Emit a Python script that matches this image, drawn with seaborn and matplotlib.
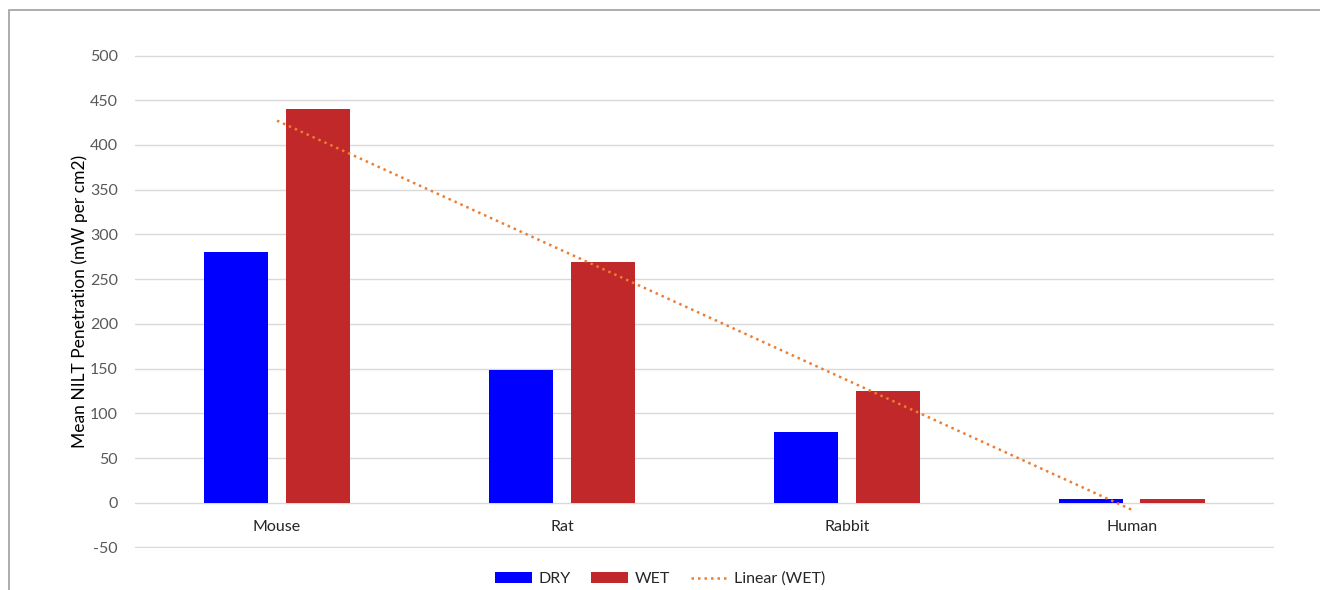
import numpy as np
import pandas as pd
import matplotlib
matplotlib.use("Agg")
import matplotlib.pyplot as plt
from matplotlib.patches import Patch, Rectangle
from matplotlib.lines import Line2D
import seaborn as sns

# Mean NILT penetration per species
species = ["Mouse", "Rat", "Rabbit", "Human"]
dry = [280, 148, 79, 4.5]
wet = [440, 269, 125, 4.5]
yticks = list(range(-50, 501, 50))

dry_color = "#0000FF"
wet_color = "#C0282A"
trend_color = "#ED7D31"
trend_style = (0, (1, 1.6))

sns.set_theme(style="white")
plt.rcParams["font.family"] = ["Lato", "DejaVu Sans"]

df = pd.DataFrame({
    "species": species * 2,
    "value": dry + wet,
    "condition": ["DRY"] * len(species) + ["WET"] * len(species),
})

fig = plt.figure(figsize=(13.2, 5.9), dpi=100)
ax = fig.add_axes([0.1019, 0.0712, 0.8636, 0.8356])

# outer chart frame
fig.patches.append(Rectangle((9 / 1320, -0.1), 1.2, 1 - 10 / 590 + 0.1,
                             transform=fig.transFigure, fill=False,
                             edgecolor="#A6A6A6", linewidth=1.3, zorder=0))

ax.set_axisbelow(True)
ax.yaxis.grid(True, color="#D9D9D9", linewidth=1.0)
ax.xaxis.grid(False)

sns.barplot(data=df, x="species", y="value", hue="condition", order=species,
            hue_order=["DRY", "WET"], palette=[dry_color, wet_color],
            width=0.57, gap=0.21, saturation=1, errorbar=None, ax=ax,
            legend=False, linewidth=0)

# linear trend over WET values
xpos = np.arange(len(species))
sns.regplot(x=xpos, y=np.array(wet, dtype=float), scatter=False, ci=None,
            ax=ax, truncate=True,
            line_kws=dict(color=trend_color, linewidth=1.8,
                          linestyle=trend_style))

ax.set_xlim(-0.5, len(species) - 0.5)
ax.set_ylim(-50.6, 500.6)
ax.set_yticks(yticks)
ax.set_yticklabels([str(t) for t in yticks])
ax.set_xticks(xpos)
ax.set_xticklabels([])
ax.set_xlabel("")
ax.set_ylabel("Mean NILT Penetration (mW per cm2)", fontsize=12.5,
              color="#000000", labelpad=1)

for s in ax.spines.values():
    s.set_visible(False)

ax.tick_params(axis="y", length=0, labelsize=11.5, labelcolor="#595959", pad=12)
ax.tick_params(axis="x", length=0)

# category labels sit just below the zero line
for i, name in enumerate(species):
    ax.text(i, -27, name, ha="center", va="center", fontsize=11.5,
            color="#262626")

handles = [Patch(facecolor=dry_color, edgecolor="none"),
           Patch(facecolor=wet_color, edgecolor="none"),
           Line2D([0], [0], color=trend_color, linewidth=1.8,
                  linestyle=trend_style)]
fig.legend(handles, ["DRY", "WET", "Linear (WET)"], loc="center",
           bbox_to_anchor=(0.5, 1 - 579 / 590), ncol=3, frameon=False,
           fontsize=11.5, handlelength=2.3, handleheight=0.75,
           columnspacing=1.3, handletextpad=0.4)

fig.savefig("out.png", dpi=100)
